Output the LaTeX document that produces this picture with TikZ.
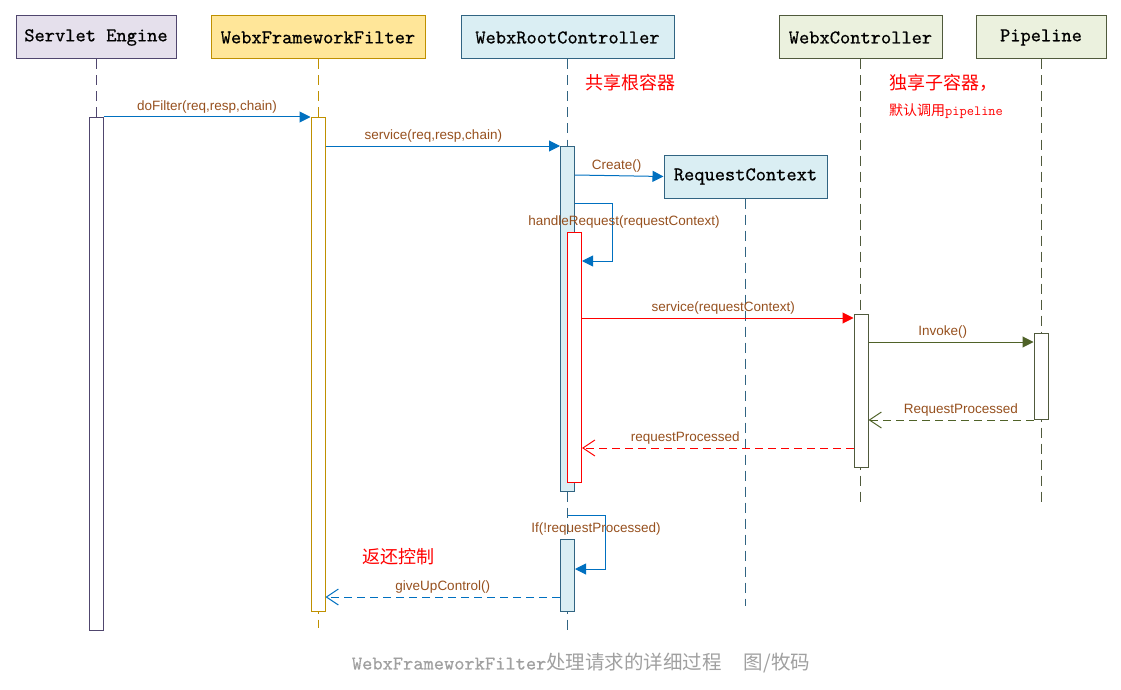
\documentclass[tikz,border=0pt]{standalone}
\usepackage{fontspec}
\setmainfont{Liberation Sans}
\newfontfamily\cjk{Noto Sans CJK SC}
\newfontfamily\headfont[FakeBold=0.6]{lmmono10-regular.otf}
\usepackage{tikz}
\usetikzlibrary{arrows.meta}

\definecolor{lblBrown}{RGB}{150,80,30}
\definecolor{msgBlue}{RGB}{0,112,192}
\definecolor{msgOlive}{RGB}{79,98,40}
\definecolor{seFill}{RGB}{229,224,236}
\definecolor{seLine}{RGB}{80,70,110}
\definecolor{ffFill}{RGB}{255,230,153}
\definecolor{ffLine}{RGB}{191,144,0}
\definecolor{rootFill}{RGB}{218,238,243}
\definecolor{rootLine}{RGB}{49,100,130}
\definecolor{wcFill}{RGB}{235,241,222}
\definecolor{wcLine}{RGB}{80,90,60}
\definecolor{capGray}{RGB}{160,160,160}

\tikzset{
  head/.style={draw, line width=1pt, minimum height=43pt, inner sep=0pt,
    font=\fontsize{19.5}{22}\selectfont\headfont},
  lifeline/.style={line width=1pt, dash pattern=on 10pt off 6pt},
  bar/.style={draw, fill=white, line width=1pt, minimum width=14pt, inner sep=0pt, anchor=north},
  msg/.style={line width=1pt, -{Triangle[length=11pt,width=11pt]}},
  reply/.style={line width=1pt, dash pattern=on 8pt off 5pt, -{Straight Barb[length=12pt,width=16pt]}},
  lbl/.style={text=lblBrown, font=\fontsize{13.5}{16}\selectfont},
  note/.style={text=red, inner sep=0pt, anchor=west, font=\fontsize{18}{20}\selectfont\cjk}
}

\begin{document}
\begin{tikzpicture}[x=1pt, y=-1pt]
    \useasboundingbox (0,0) rectangle (1121,690);

    \node [head, fill=seFill, draw=seLine, minimum width=160pt] (se) at (96,37.5) {Servlet Engine};
    \node [head, fill=ffFill, draw=ffLine, minimum width=214pt] (ff) at (318,37.5) {WebxFrameworkFilter};
    \node [head, fill=rootFill, draw=rootLine, minimum width=213pt] (root) at (567.5,37.5) {WebxRootController};
    \node [head, fill=wcFill, draw=wcLine, minimum width=163pt] (wc) at (860.5,37.5) {WebxController};
    \node [head, fill=wcFill, draw=wcLine, minimum width=130pt] (pipe) at (1041,37.5) {Pipeline};
    \node [head, fill=rootFill, draw=rootLine, minimum width=163pt] (rc) at (745.5,176.5) {RequestContext};

    \draw [lifeline, seLine] (se.south) -- ++(0,571);
    \draw [lifeline, ffLine] (ff.south) -- ++(0,568);
    \draw [lifeline, rootLine] (root.south) -- ++(0,573);
    \draw [lifeline, rootLine] (rc.south) -- ++(0,407);
    \draw [lifeline, wcLine] (wc.south) -- ++(0,446);
    \draw [lifeline, wcLine] (pipe.south) -- ++(0,446);

    \node [bar, draw=seLine, minimum height=513pt] (seBar) at (96,117) {};
    \node [bar, draw=ffLine, minimum height=494pt] (ffBar) at (318,117) {};
    \node [bar, draw=rootLine, fill=rootFill, minimum height=345pt] (rootBar) at (567.5,146) {};
    \node [bar, draw=red, minimum height=250pt] (redBar) at (574.5,232) {};
    \node [bar, draw=wcLine, minimum height=153pt] (wcBar) at (861,314) {};
    \node [bar, draw=wcLine, minimum height=86pt] (pipeBar) at (1041,333) {};
    \node [bar, draw=rootLine, fill=rootFill, minimum height=72pt] (rootBar2) at (567.5,539) {};

    \coordinate (yCreate) at (0,175);
    \coordinate (hTop) at (612,203);
    \coordinate (hBot) at (612,261);
    \coordinate (yServ) at (0,318);
    \coordinate (yInvoke) at (0,342);
    \coordinate (yDone) at (0,448);
    \coordinate (iTop) at (605,515);
    \coordinate (iBot) at (605,569);
    \coordinate (yGive) at (0,597);

    \draw [msg, msgBlue] (seBar.north east) -- (ffBar.north west)
        node [lbl, midway, above] (lDoFilter) {doFilter(req,resp,chain)};
    \draw [msg, msgBlue] (ffBar.east |- rootBar.north) -- (rootBar.north west)
        node [lbl, pos=0.46, above] (lService) {service(req,resp,chain)};
    \draw [msg, msgBlue] (rootBar.east |- yCreate) -- (rc.west)
        node [lbl, pos=0.47, above] (lCreate) {Create()};
    \draw [msg, msgBlue] (rootBar.east |- hTop) -- (hTop) -- (hBot) -- (redBar.east |- hBot);
    \node [lbl] (lHandle) at (624,222) {handleRequest(requestContext)};
    \draw [msg, red] (redBar.east |- yServ) -- (wcBar.west |- yServ)
        node [lbl, pos=0.52, above] (lServCtx) {service(requestContext)};
    \draw [msg, msgOlive] (wcBar.east |- yInvoke) -- (pipeBar.west |- yInvoke)
        node [lbl, pos=0.45, above] (lInvoke) {Invoke()};
    \draw [reply, msgOlive] (pipeBar.south west) -- (wcBar.east |- pipeBar.south)
        node [lbl, pos=0.44, above] (lReqDone) {RequestProcessed};
    \draw [reply, red] (wcBar.west |- yDone) -- (redBar.east |- yDone)
        node [lbl, pos=0.62, above] (lDone) {requestProcessed};
    \draw [msg, msgBlue] (root.south |- iTop) -- (iTop) -- (iBot) -- (rootBar2.east |- iBot);
    \node [lbl] (lIf) at (596,529) {If(!requestProcessed)};
    \draw [reply, msgBlue] (rootBar2.west |- yGive) -- (ffBar.east |- yGive)
        node [lbl, midway, above] (lGive) {giveUpControl()};

    \node [note] (nShared) at (585,83) {共享根容器};
    \node [note] (nOwn) at (889,83) {独享子容器，};
    \node [note, font=\fontsize{14}{16}\selectfont] (nPipe) at (889,111) {{\cjk 默认调用}{\ttfamily pipeline}};
    \node [note] (nBack) at (362,557) {返还控制};

    \node [text=capGray, font=\fontsize{19.5}{22}\selectfont] (caption) at (581,663)
        {{\headfont WebxFrameworkFilter}{\cjk 处理请求的详细过程}\hspace{22pt}{\cjk 图/牧码}};
\end{tikzpicture}
\end{document}
